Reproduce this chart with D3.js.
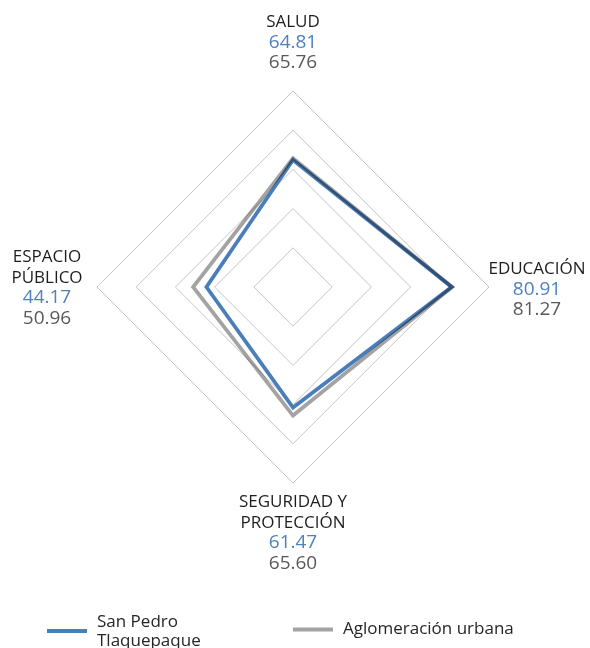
<!DOCTYPE html>
<html>
<head>
	<meta charset="utf-8">
	<title>Radar San Pedro Tlaquepaque</title>
	<script type="text/javascript" src="https://d3js.org/d3.v7.min.js"></script>
	<style type="text/css">
		body {
			margin: 0;
			background: white;
		}
		text {
			font-family: "Open Sans", sans-serif;
		}
		.grid {
			fill: none;
			stroke: #c4c4c4;
			stroke-width: 1;
		}
		.cat {
			font-size: 17px;
		}
		.num {
			font-size: 19px;
		}
		.legend text {
			font-size: 17px;
			fill: #262626;
		}
	</style>
</head>
<body>
	<script type="text/javascript">
		// data
		var categories = ["SALUD", "EDUCACIÓN", "SEGURIDAD Y PROTECCIÓN", "ESPACIO PÚBLICO"];
		var categoryLines = [["SALUD"], ["EDUCACIÓN"], ["SEGURIDAD Y", "PROTECCIÓN"], ["ESPACIO", "PÚBLICO"]];
		var seriesNames = ["San Pedro Tlaquepaque", "Aglomeración urbana"];
		var sanPedro = [64.81, 80.91, 61.47, 44.17];
		var aglomeracion = [65.76, 81.27, 65.60, 50.96];
		var gridLevels = [20, 40, 60, 80, 100];

		var outer_width = 590;
		var outer_height = 648;
		var cx = 293, cy = 287;
		var radius = 196;
		var lineH = 20.5;

		var blue = "#4a7ebb";
		var gray = "#a3a3a3";

		var svg = d3.select("body")
					.append("svg")
					.attr("width", outer_width)
					.attr("height", outer_height);

		var chart = svg.append("g")
					.attr("transform", "translate(" + cx + "," + cy + ")");

		var rScale = d3.scaleLinear()
						.domain([0, 100])
						.range([0, radius]);

		var angle = d3.scalePoint()
						.domain(categories)
						.range([0, 2 * Math.PI * 3 / 4]);

		var radial = d3.lineRadial()
						.angle(function(d, i){ return angle(categories[i]); })
						.radius(function(d){ return rScale(d); })
						.curve(d3.curveLinearClosed);

		// grid diamonds
		chart.selectAll(".grid")
			.data(gridLevels)
			.enter()
			.append("path")
			.attr("class", "grid")
			.attr("d", function(l){ return radial(categories.map(function(){ return l; })); });

		// series lines, gray on top with multiply so overlaps go dark
		chart.append("path")
			.datum(sanPedro)
			.attr("d", radial)
			.style("fill", "none")
			.style("stroke", blue)
			.style("stroke-width", 3.75)
			.style("stroke-linejoin", "miter");

		chart.append("path")
			.datum(aglomeracion)
			.attr("d", radial)
			.style("fill", "none")
			.style("stroke", gray)
			.style("stroke-width", 3.75)
			.style("stroke-linejoin", "miter")
			.style("mix-blend-mode", "multiply");

		// category labels + values
		function labelPos(i, n){
			var a = angle(categories[i]);
			var vx = Math.sin(a) * radius, vy = -Math.cos(a) * radius;
			var x, y0;
			if (i == 0){ x = 0; y0 = vy - 23 - (n - 1) * lineH; }
			else if (i == 2){ x = 0; y0 = vy + 24.3; }
			else if (i == 1){ x = vx + 48; y0 = -(n - 1) * lineH / 2 + 7.5; }
			else { x = vx - 50; y0 = -(n - 1) * lineH / 2 + 6; }
			return {x: x, y: y0};
		}

		categories.forEach(function(c, i){
			var rows = categoryLines[i].map(function(t){ return {t: t, fill: "#1e1e1e", cls: "cat"}; });
			rows.push({t: d3.format(".2f")(sanPedro[i]), fill: "#4f81bd", cls: "num"});
			rows.push({t: d3.format(".2f")(aglomeracion[i]), fill: "#595959", cls: "num"});
			var p = labelPos(i, rows.length);
			chart.append("g")
				.selectAll("text")
				.data(rows)
				.enter()
				.append("text")
				.attr("class", function(d){ return d.cls; })
				.attr("x", p.x)
				.attr("y", function(d, j){ return p.y + j * lineH; })
				.attr("text-anchor", "middle")
				.style("fill", function(d){ return d.fill; })
				.text(function(d){ return d.t; });
		});

		// legend
		var legend = svg.append("g").attr("class", "legend");

		legend.append("line")
			.attr("x1", 47).attr("x2", 87)
			.attr("y1", 631).attr("y2", 631)
			.style("stroke", blue)
			.style("stroke-width", 4);
		legend.append("text")
			.attr("x", 97).attr("y", 627)
			.text("San Pedro");
		legend.append("text")
			.attr("x", 97).attr("y", 646)
			.text("Tlaquepaque");

		legend.append("line")
			.attr("x1", 293).attr("x2", 333)
			.attr("y1", 629.5).attr("y2", 629.5)
			.style("stroke", gray)
			.style("stroke-width", 4);
		legend.append("text")
			.attr("x", 343).attr("y", 634)
			.text(seriesNames[1]);
	</script>
</body>
</html>
